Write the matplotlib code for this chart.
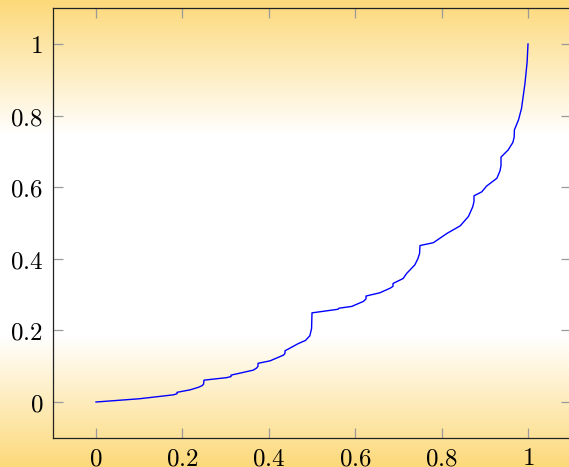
import matplotlib
matplotlib.use("Agg")
import matplotlib.pyplot as plt
import numpy as np
from matplotlib.colors import LinearSegmentedColormap
from matplotlib.ticker import FuncFormatter

# curve (vertical jumps = repeated x)
x_vals = [0.0, 0.10, 0.179, 0.1875, 0.1875, 0.218, 0.237, 0.246, 0.249, 0.25,
          0.302, 0.3125, 0.3125, 0.364, 0.372, 0.375, 0.375, 0.403, 0.434, 0.4375,
          0.4375, 0.468, 0.485, 0.495, 0.499, 0.5, 0.56, 0.5625, 0.592, 0.619,
          0.625, 0.625, 0.657, 0.681, 0.6875, 0.6875, 0.711, 0.719, 0.738, 0.745,
          0.749, 0.75, 0.781, 0.8125, 0.843, 0.862, 0.872, 0.875, 0.875, 0.893,
          0.904, 0.928, 0.935, 0.9375, 0.9375, 0.954, 0.965, 0.968, 0.9685, 0.978,
          0.985, 0.993, 0.998, 1.0]
y_vals = [0.0, 0.009, 0.020, 0.023, 0.027, 0.034, 0.041, 0.046, 0.050, 0.061,
          0.068, 0.071, 0.075, 0.089, 0.095, 0.100, 0.108, 0.115, 0.131, 0.136,
          0.143, 0.163, 0.172, 0.185, 0.205, 0.249, 0.259, 0.262, 0.267, 0.281,
          0.288, 0.296, 0.305, 0.318, 0.323, 0.331, 0.345, 0.359, 0.383, 0.400,
          0.415, 0.437, 0.445, 0.471, 0.492, 0.518, 0.545, 0.560, 0.576, 0.587,
          0.603, 0.625, 0.645, 0.660, 0.684, 0.704, 0.725, 0.740, 0.760, 0.788,
          0.820, 0.890, 0.950, 1.0]
x_ticks = [0, 0.2, 0.4, 0.6, 0.8, 1]
y_ticks = [0, 0.2, 0.4, 0.6, 0.8, 1]

plt.rcParams["mathtext.fontset"] = "cm"

W, H = 569, 467
fig = plt.figure(figsize=(W / 100, H / 100), dpi=100)

# background shading: orange at top and bottom, white band in the middle
bg = fig.add_axes([0, 0, 1, 1], zorder=0)
bg.axis("off")
rows = np.arange(H)
shade = np.interp(rows, [0, 135, 335, H - 1], [1, 0, 0, 1])
cmap = LinearSegmentedColormap.from_list("bg", ["#ffffff", "#fcd97a"])
bg.imshow(np.tile(shade[:, None], (1, 2)), cmap=cmap, vmin=0, vmax=1,
          aspect="auto", extent=[0, 1, 0, 1], origin="upper")

ax = fig.add_axes([52.8 / W, 29.2 / H, 518.4 / W, 429.6 / H], zorder=1)
ax.patch.set_alpha(0)
ax.plot(x_vals, y_vals, color="#0000ff", lw=1.0)

ax.set_xlim(-0.1, 1.1)
ax.set_ylim(-0.1, 1.1)
ax.set_xticks(x_ticks)
ax.set_yticks(y_ticks)
fmt = FuncFormatter(lambda v, _: f"${v:g}$")
ax.xaxis.set_major_formatter(fmt)
ax.yaxis.set_major_formatter(fmt)
ax.tick_params(direction="in", length=7, width=0.9, color="#9a9a9a",
               top=True, right=True, labelsize=18, labelcolor="black")
ax.tick_params(axis="x", pad=6)
ax.tick_params(axis="y", pad=7)
for s in ax.spines.values():
    s.set_linewidth(0.9)
    s.set_color("#222222")

fig.savefig("out.png", dpi=100)
